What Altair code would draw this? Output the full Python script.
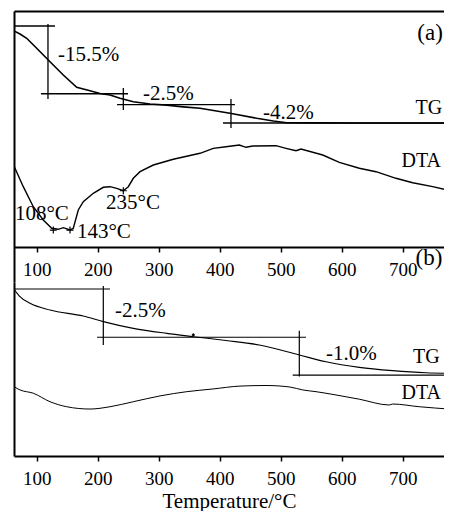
import altair as alt
import pandas as pd

FONT = "Liberation Serif"

# ---------------- shared temperature axis ----------------
x_domain = [62.8, 767.7]
tick_values = [100, 200, 300, 400, 500, 600, 700]
x_title = "Temperature/°C"

# ---------------- panel (a) ----------------
ya_domain = [41.42, 103.43]

tg_a_T = [62.8, 72.6, 83.6, 100.0, 121.8, 143.6, 165.6, 187.4, 203.8, 220.2, 236.6, 258.4,
          285.7, 313.1, 340.3, 367.7, 416.9, 460.7, 487.9, 509.8, 560.0, 613.6, 700.0, 780.8]
tg_a_m = [98.86, 98.17, 97.19, 94.90, 91.83, 88.79, 85.97, 85.19, 84.57, 84.21, 83.45, 82.68,
          82.15, 81.90, 81.50, 81.17, 80.02, 78.88, 78.26, 77.87, 77.82, 77.80, 77.80, 77.80]

dta_a_T = [62.8, 78.0, 94.4, 110.8, 124.6, 135.4, 143.6, 154.6, 160.0, 168.2, 176.4, 192.8,
           209.2, 220.2, 231.2, 242.0, 250.2, 258.4, 269.4, 291.2, 323.9, 367.7, 389.5, 410.3,
           432.1, 443.1, 454.1, 492.3, 508.7, 525.1, 533.3, 568.9, 596.1, 628.9, 656.2, 689.0,
           716.4, 749.2, 780.8]
dta_a_v = [67.96, 63.23, 58.65, 55.61, 53.71, 53.48, 53.85, 53.32, 53.71, 57.90, 59.79, 61.72,
           63.09, 63.23, 62.86, 62.31, 63.23, 65.15, 66.66, 68.19, 69.50, 70.87, 72.01, 72.38,
           72.77, 72.24, 72.54, 72.61, 72.01, 71.46, 71.85, 70.48, 68.81, 67.44, 66.66, 65.15,
           64.14, 63.23, 62.24]

# step lines of the TG analysis (a)
ha_T = [62.8, 107.0, 231.7, 405.4]
ha_T2 = [130.0, 249.7, 425.0, 780.8]
ha_v = [100.0, 84.5, 82.0, 77.8]
va_T = [118.5, 242.0, 418.5]
va_v = [100.46, 85.81, 83.30]
va_v2 = [83.30, 80.78, 76.66]

# peak markers on DTA (a)
cross_a_T = [127.2, 154.6, 242.0]
cross_a_v = [53.3, 53.3, 62.3]

ann_a_labels = ["-15.5%", "-2.5%", "-4.2%", "108°C", "143°C", "235°C"]
ann_a_T = [135.0, 274.3, 471.0, 64.4, 166.0, 213.6]
ann_a_v = [93.4, 84.44, 80.0, 56.9, 52.75, 59.4]

name_a_labels = ["TG", "DTA"]
name_a_T = [721.0, 698.0]
name_a_v = [81.24, 69.2]

letter_labels = ["(a)", "(b)"]
letter_T = [724.0, 721.0]
letter_v = [98.4, 46.9]

# ---------------- panel (b) ----------------
yb_domain = [91.347, 100.363]

tg_b_T = [62.8, 67.7, 72.6, 89.0, 121.8, 176.4, 209.2, 258.4, 313.1, 356.7, 410.3, 464.9,
          530.5, 574.3, 628.9, 683.6, 738.2, 780.8]
tg_b_m = [99.98, 99.79, 99.60, 99.26, 98.91, 98.60, 98.31, 97.96, 97.70, 97.53, 97.33, 97.10,
          96.58, 96.23, 95.94, 95.77, 95.66, 95.63]

dta_b_T = [62.8, 72.6, 94.4, 121.8, 149.2, 187.4, 220.2, 258.4, 302.1, 346.0, 389.0, 433.3,
           476.0, 515.2, 536.1, 557.9, 590.6, 628.9, 678.0, 683.6, 727.2, 780.8]
dta_b_v = [94.94, 94.77, 94.60, 94.16, 93.90, 93.78, 93.90, 94.16, 94.46, 94.68, 94.82, 94.97,
           95.00, 94.92, 94.77, 94.68, 94.51, 94.29, 93.99, 94.04, 93.90, 93.77]

hb_T = [62.8, 198.9, 519.7]
hb_T2 = [220.2, 541.5, 780.8]
hb_v = [100.0, 97.50, 95.54]
vb_T = [209.2, 530.5]
vb_v = [100.16, 97.84]
vb_v2 = [97.10, 95.46]

dot_b_T = [356.7]
dot_b_v = [97.62]

ann_b_labels = ["-2.5%", "-1.0%"]
ann_b_T = [228.4, 574.3]
ann_b_v = [98.88, 96.65]

name_b_labels = ["TG", "DTA"]
name_b_T = [716.9, 698.0]
name_b_v = [96.49, 94.61]

# ---------------- helpers ----------------
W = 430
HA = 271
HB = 174

xs = alt.Scale(domain=x_domain, nice=False, zero=False)

axis_y = alt.Axis(labels=False, ticks=False, domain=True, domainColor="black", domainWidth=2,
                  grid=False, title=None, minExtent=0, maxExtent=0)


def axis_x_bottom(offset, title, pad, tpad=0):
    kw = dict(values=tick_values, orient="bottom", offset=offset, domain=True, domainColor="black",
              domainWidth=2, ticks=True, tickColor="black", tickWidth=1.5, tickSize=5,
              labelFont=FONT, labelFontSize=19, labelColor="black", labelPadding=pad,
              labelFlush=False, labelOverlap=False, grid=False)
    if title:
        kw.update(title=title, titleFont=FONT, titleFontSize=21, titleFontWeight="normal",
                  titleColor="black", titlePadding=tpad)
    else:
        kw.update(title=None)
    return alt.Axis(**kw)


axis_x_top = alt.Axis(orient="top", labels=False, ticks=False, domain=True, domainColor="black",
                      domainWidth=2, grid=False, title=None)


def line_layer(T, v, ys, xaxis, width=1.5, interp="linear"):
    df = pd.DataFrame({"T": T, "v": v})
    return alt.Chart(df).mark_line(color="black", strokeWidth=width, clip=True,
                                   interpolate=interp).encode(
        x=alt.X("T:Q", scale=xs, axis=xaxis),
        y=alt.Y("v:Q", scale=ys, axis=axis_y),
    )


def hrule_layer(T, T2, v, ys, width=1.3):
    df = pd.DataFrame({"T": T, "T2": T2, "v": v})
    return alt.Chart(df).mark_rule(color="black", strokeWidth=width, clip=True).encode(
        x=alt.X("T:Q", scale=xs, axis=None), x2="T2:Q",
        y=alt.Y("v:Q", scale=ys, axis=axis_y),
    )


def vrule_layer(T, v, v2, ys, width=1.3):
    df = pd.DataFrame({"T": T, "v": v, "v2": v2})
    return alt.Chart(df).mark_rule(color="black", strokeWidth=width, clip=True).encode(
        x=alt.X("T:Q", scale=xs, axis=None),
        y=alt.Y("v:Q", scale=ys, axis=axis_y), y2="v2:Q",
    )


def text_layer(labels, T, v, ys, size):
    df = pd.DataFrame({"T": T, "v": v, "label": labels})
    return alt.Chart(df).mark_text(align="left", baseline="middle", font=FONT, fontSize=size,
                                   color="black", clip=True).encode(
        x=alt.X("T:Q", scale=xs, axis=None),
        y=alt.Y("v:Q", scale=ys, axis=axis_y),
        text="label:N",
    )


ysa = alt.Scale(domain=ya_domain, nice=False, zero=False)
ysb = alt.Scale(domain=yb_domain, nice=False, zero=False)

cross_df = pd.DataFrame({"T": cross_a_T, "v": cross_a_v})
crosses = alt.Chart(cross_df).mark_point(shape="M-1,0L1,0M0,-1L0,1", size=49, filled=False,
                                         color="black", strokeWidth=1.2, opacity=1).encode(
    x=alt.X("T:Q", scale=xs, axis=None),
    y=alt.Y("v:Q", scale=ysa, axis=axis_y),
)

panel_a = alt.layer(
    line_layer(tg_a_T, tg_a_m, ysa, axis_x_bottom(-35, None, 8), width=1.6),
    line_layer(dta_a_T, dta_a_v, ysa, axis_x_top, width=1.4),
    hrule_layer(ha_T, ha_T2, ha_v, ysa),
    vrule_layer(va_T, va_v, va_v2, ysa),
    crosses,
    text_layer(ann_a_labels, ann_a_T, ann_a_v, ysa, 21),
    text_layer(name_a_labels, name_a_T, name_a_v, ysa, 20),
    text_layer(letter_labels, letter_T, letter_v, ysa, 23),
).resolve_axis(x="independent").properties(width=W, height=HA)

dot_df = pd.DataFrame({"T": dot_b_T, "v": dot_b_v})
dot = alt.Chart(dot_df).mark_point(shape="diamond", size=14, filled=True, color="black",
                                   opacity=1).encode(
    x=alt.X("T:Q", scale=xs, axis=None),
    y=alt.Y("v:Q", scale=ysb, axis=axis_y),
)

panel_b = alt.layer(
    line_layer(tg_b_T, tg_b_m, ysb, axis_x_bottom(0, x_title, 8, 2), width=1.1, interp="monotone"),
    line_layer(dta_b_T, dta_b_v, ysb, None, width=1.0, interp="monotone"),
    hrule_layer(hb_T, hb_T2, hb_v, ysb, width=1.2),
    vrule_layer(vb_T, vb_v, vb_v2, ysb, width=1.2),
    dot,
    text_layer(ann_b_labels, ann_b_T, ann_b_v, ysb, 21),
    text_layer(name_b_labels, name_b_T, name_b_v, ysb, 20),
).resolve_axis(x="independent").properties(width=W, height=HB)

chart = alt.vconcat(panel_a, panel_b, spacing=0).properties(
    padding={"left": 6, "top": 3, "right": 0, "bottom": 0},
    background="white",
).configure_view(stroke=None)

chart.save("out.html", embed_options={"renderer": "svg", "actions": False})
